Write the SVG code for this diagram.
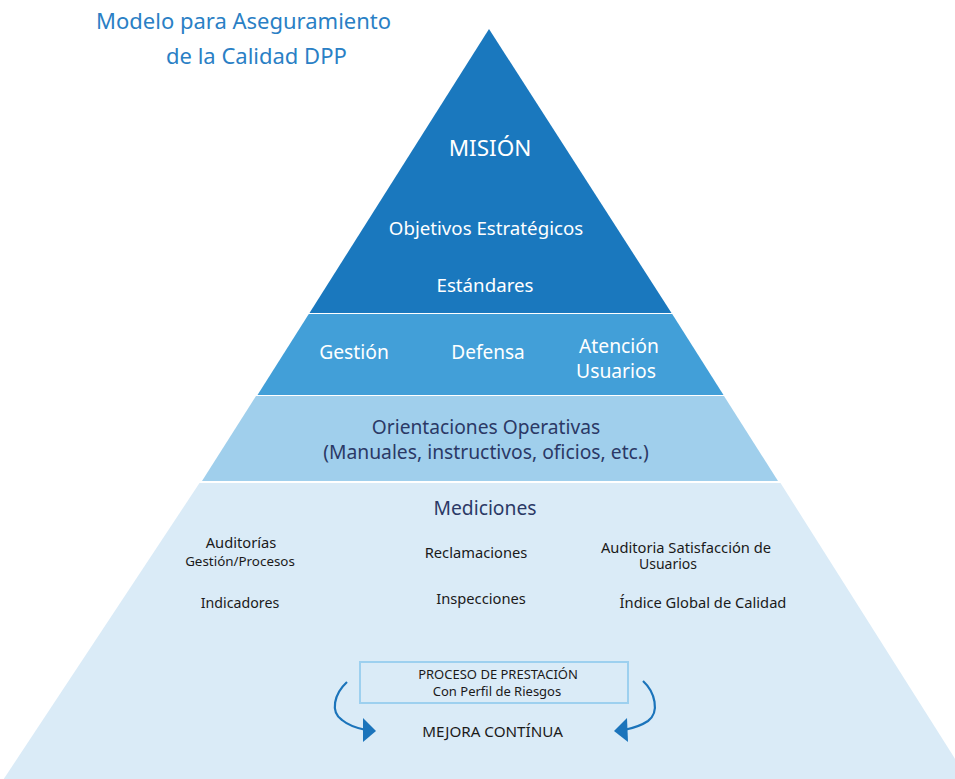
<svg xmlns="http://www.w3.org/2000/svg" width="955" height="779" viewBox="0 0 955 779">
<defs>
<style>
text{font-family:"Noto Sans","Open Sans","Liberation Sans",sans-serif;text-anchor:middle}
.title{fill:#2a80c5;font-size:22px;text-anchor:start}
.w{fill:#ffffff}
.d{fill:#2b3966}
.k{fill:#1a1a1a;font-size:14.7px}
.arrow{fill:none;stroke:#1b74bb;stroke-width:2.2}
.head{fill:#1b74bb}
</style>
</defs>
<rect width="955" height="779" fill="#ffffff"/>
<g id="title">
<text class="title" x="96" y="29">Modelo para Aseguramiento</text>
<text class="title" x="166" y="64">de la Calidad DPP</text>
</g>
<g id="level-mision">
<polygon points="489,29 309.5,313 671.5,313" fill="#1a78be"/>
<text class="w" x="490" y="156" font-size="22.5">MISIÓN</text>
<text class="w" x="486" y="235" font-size="18.7">Objetivos Estratégicos</text>
<text class="w" x="485" y="292" font-size="18.7">Estándares</text>
</g>
<g id="level-areas">
<polygon points="308.8,314 672.2,314 723.5,395 257.5,395" fill="#429fd8"/>
<text class="w" x="354" y="359" font-size="19.3">Gestión</text>
<text class="w" x="488" y="359" font-size="19">Defensa</text>
<text class="w" x="619" y="353" font-size="19.3">Atención</text>
<text class="w" x="616" y="378" font-size="19.3">Usuarios</text>
</g>
<g id="level-orientaciones">
<polygon points="256,396 724,396 778,481 202,481" fill="#a0cfec"/>
<text class="d" x="486" y="434" font-size="19.2">Orientaciones Operativas</text>
<text class="d" x="486" y="459" font-size="19.3">(Manuales, instructivos, oficios, etc.)</text>
</g>
<g id="level-mediciones">
<polygon points="199.5,483 780.5,483 1000,830 -30,830" fill="#daebf7"/>
<text class="d" x="485" y="515" font-size="19.3">Mediciones</text>
<text class="k" x="241" y="548">Auditorías</text>
<text class="k" x="240" y="566" style="font-size:13.4px">Gestión/Procesos</text>
<text class="k" x="476" y="558">Reclamaciones</text>
<text class="k" x="686" y="553">Auditoria Satisfacción de</text>
<text class="k" x="668" y="569" style="font-size:14px">Usuarios</text>
<text class="k" x="240" y="608" style="font-size:14.2px">Indicadores</text>
<text class="k" x="481" y="604">Inspecciones</text>
<text class="k" x="703" y="608">Índice Global de Calidad</text>
</g>
<g id="proceso">
<rect x="360" y="662" width="268" height="41" fill="#daebf7" stroke="#9dd0ef" stroke-width="2"/>
<text class="k" x="498" y="679" style="font-size:13px">PROCESO DE PRESTACIÓN</text>
<text class="k" x="497" y="696" style="font-size:13px">Con Perfil de Riesgos</text>
</g>
<g id="mejora">
<text class="k" x="492.5" y="737" style="font-size:15.2px">MEJORA CONTÍNUA</text>
</g>
<g id="connectors">
<path class="arrow" d="M347,682 C334,694 330,712 342,720 C348,725 356,728 366,730"/>
<polygon class="head" points="363,718 376,731 363,742"/>
<path class="arrow" d="M643,681 C655,692 660,712 648,721 C642,725 634,728 624,730"/>
<polygon class="head" points="627,718 614,731 628,742"/>
</g>
</svg>
